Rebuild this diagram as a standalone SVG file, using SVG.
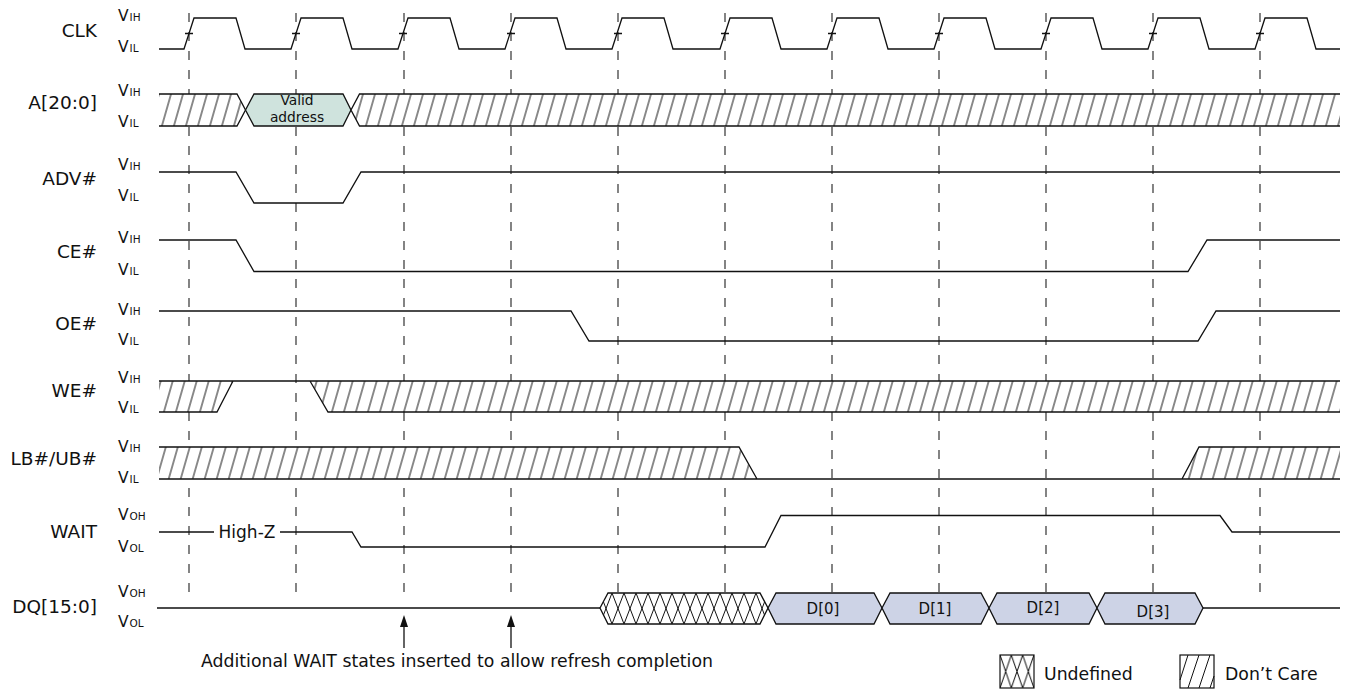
<svg xmlns="http://www.w3.org/2000/svg" width="1345" height="690" viewBox="0 0 1345 690">
<style>
text{font-family:"DejaVu Sans","Liberation Sans",sans-serif;fill:#111}
.lbl{font-size:18.5px;text-anchor:end}
.v{font-size:15.5px}
.s{font-size:10.5px}
.sig{fill:none;stroke:#111;stroke-width:1.3;stroke-linejoin:miter}
.dash{stroke:#333;stroke-width:1.2;stroke-dasharray:9 10}
.hf{fill:url(#hatch);stroke:none}
.d{fill:#cdd3e6;stroke:#111;stroke-width:1.3}
.dt{font-size:15px;text-anchor:middle}
.vt{font-size:13.8px;text-anchor:middle}
.note{font-size:17.3px}
</style>
<defs>
<pattern id="hatch" patternUnits="userSpaceOnUse" width="12" height="12" patternTransform="skewX(-16)">
<rect width="12" height="12" fill="#fff"/>
<line x1="6" y1="-1" x2="6" y2="13" stroke="#111" stroke-width="1"/>
</pattern>
<pattern id="xh" patternUnits="userSpaceOnUse" x="0" y="593" width="12" height="31">
<rect width="12" height="31" fill="#fff"/>
<path d="M0,0L12,31M12,0L0,31" stroke="#111" stroke-width="1"/>
</pattern>
<pattern id="xhl" patternUnits="userSpaceOnUse" x="1000" y="655" width="11.33" height="33">
<rect width="11.33" height="33" fill="#fff"/>
<path d="M0,0L11.33,33M11.33,0L0,33" stroke="#111" stroke-width="1"/>
</pattern>
</defs>

<g id="connectors">
<g id="ref-lines">
<line class="dash" x1="189" y1="13" x2="189" y2="602"/>
<line class="dash" x1="296" y1="13" x2="296" y2="602"/>
<line class="dash" x1="404" y1="13" x2="404" y2="602"/>
<line class="dash" x1="511" y1="13" x2="511" y2="602"/>
<line class="dash" x1="618" y1="13" x2="618" y2="602"/>
<line class="dash" x1="725" y1="13" x2="725" y2="602"/>
<line class="dash" x1="832" y1="13" x2="832" y2="602"/>
<line class="dash" x1="939" y1="13" x2="939" y2="602"/>
<line class="dash" x1="1046" y1="13" x2="1046" y2="602"/>
<line class="dash" x1="1153" y1="13" x2="1153" y2="602"/>
<line class="dash" x1="1260" y1="13" x2="1260" y2="602"/>
</g>
<g id="arrows">
<line x1="404" y1="626" x2="404" y2="648" stroke="#111" stroke-width="1.3"/>
<polygon points="404,615 400,627 408,627" fill="#111"/>
<line x1="511" y1="626" x2="511" y2="648" stroke="#111" stroke-width="1.3"/>
<polygon points="511,615 507,627 515,627" fill="#111"/>
</g>
</g>

<g id="clk">
<text class="lbl" x="97" y="37">CLK</text>
<text x="118" y="21"><tspan class="v">V</tspan><tspan class="s" dx="1">IH</tspan></text>
<text x="118" y="52"><tspan class="v">V</tspan><tspan class="s" dx="1">IL</tspan></text>
<path class="sig" d="M159,49 L184,49 L194,18 L236,18 L245,49 L291,49 L301,18 L343,18 L352,49 L398,49 L408,18 L450,18 L459,49 L505,49 L515,18 L557,18 L566,49 L612,49 L622,18 L664,18 L673,49 L720,49 L730,18 L772,18 L781,49 L827,49 L837,18 L879,18 L888,49 L934,49 L944,18 L986,18 L995,49 L1041,49 L1051,18 L1093,18 L1102,49 L1148,49 L1158,18 L1200,18 L1209,49 L1255,49 L1265,18 L1307,18 L1316,49 L1340,49"/>
<path class="sig" stroke-width="1.1" d="M185,33.5H193M292,33.5H300M399,33.5H407M507,33.5H515M614,33.5H622M721,33.5H729M828,33.5H836M935,33.5H943M1042,33.5H1050M1149,33.5H1157M1256,33.5H1264"/>
</g>

<g id="addr">
<text class="lbl" x="97" y="109">A[20:0]</text>
<text x="118" y="96"><tspan class="v">V</tspan><tspan class="s" dx="1">IH</tspan></text>
<text x="118" y="127"><tspan class="v">V</tspan><tspan class="s" dx="1">IL</tspan></text>
<polygon class="hf" points="159,94 237,94 245.5,110 237,126 159,126"/>
<path class="sig" d="M159,94H237L245.5,110L237,126H159"/>
<polygon points="245.5,110 254,94 343,94 351,110 343,126 254,126" fill="#cfe3dd" stroke="#111" stroke-width="1.3"/>
<text class="vt" x="297" y="105">Valid</text>
<text class="vt" x="297" y="121.5">address</text>
<polygon class="hf" points="351,110 359.5,94 1340,94 1340,126 359.5,126"/>
<path class="sig" d="M1340,94H359.5L351,110L359.5,126H1340"/>
</g>

<g id="adv">
<text class="lbl" x="97" y="185">ADV#</text>
<text x="118" y="170"><tspan class="v">V</tspan><tspan class="s" dx="1">IH</tspan></text>
<text x="118" y="201"><tspan class="v">V</tspan><tspan class="s" dx="1">IL</tspan></text>
<path class="sig" d="M159,172H236L254,203H343L361,172H1340"/>
</g>

<g id="ce">
<text class="lbl" x="97" y="258">CE#</text>
<text x="118" y="243"><tspan class="v">V</tspan><tspan class="s" dx="1">IH</tspan></text>
<text x="118" y="275"><tspan class="v">V</tspan><tspan class="s" dx="1">IL</tspan></text>
<path class="sig" d="M159,240H236L254,271.5H1188L1207,240H1340"/>
</g>

<g id="oe">
<text class="lbl" x="97" y="330">OE#</text>
<text x="118" y="315"><tspan class="v">V</tspan><tspan class="s" dx="1">IH</tspan></text>
<text x="118" y="345"><tspan class="v">V</tspan><tspan class="s" dx="1">IL</tspan></text>
<path class="sig" d="M159,311H571L589,341H1198L1216,311H1340"/>
</g>

<g id="we">
<text class="lbl" x="97" y="397">WE#</text>
<text x="118" y="383"><tspan class="v">V</tspan><tspan class="s" dx="1">IH</tspan></text>
<text x="118" y="413"><tspan class="v">V</tspan><tspan class="s" dx="1">IL</tspan></text>
<polygon class="hf" points="159,381 233,381 217,412 159,412"/>
<polygon class="hf" points="310,381 1340,381 1340,412 328,412"/>
<path class="sig" d="M159,381H1340M159,412H217L233,381M310,381L328,412H1340"/>
</g>

<g id="lbub">
<text class="lbl" x="97" y="465">LB#/UB#</text>
<text x="118" y="452"><tspan class="v">V</tspan><tspan class="s" dx="1">IH</tspan></text>
<text x="118" y="483"><tspan class="v">V</tspan><tspan class="s" dx="1">IL</tspan></text>
<polygon class="hf" points="159,447 739,447 757,479 159,479"/>
<polygon class="hf" points="1182,479 1199,447 1340,447 1340,479"/>
<path class="sig" d="M159,447H739L757,479M159,479H1340M1182,479L1199,447H1340"/>
</g>

<g id="wait">
<text class="lbl" x="97" y="538">WAIT</text>
<text x="118" y="520"><tspan class="v">V</tspan><tspan class="s" dx="1">OH</tspan></text>
<text x="118" y="552"><tspan class="v">V</tspan><tspan class="s" dx="1">OL</tspan></text>
<path class="sig" d="M159,532H214M280,532H352L361,547H765L781,515.5H1220L1232,532H1340"/>
<text x="247" y="538" style="font-size:17px;text-anchor:middle">High-Z</text>
</g>

<g id="dq">
<text class="lbl" x="97" y="613">DQ[15:0]</text>
<text x="118" y="597"><tspan class="v">V</tspan><tspan class="s" dx="1">OH</tspan></text>
<text x="118" y="627"><tspan class="v">V</tspan><tspan class="s" dx="1">OL</tspan></text>
<path class="sig" d="M157,608H600M1203,608H1340"/>
<polygon points="600,608 608,593 760,593 768,608 760,624 608,624" fill="url(#xh)" stroke="#111" stroke-width="1.3"/>
<polygon class="d" points="768,608 776,593 874,593 882,608 874,624 776,624"/>
<text class="dt" x="823" y="614">D[0]</text>
<polygon class="d" points="882,608 890,593 981,593 989,608 981,624 890,624"/>
<text class="dt" x="935" y="614">D[1]</text>
<polygon class="d" points="989,608 997,593 1089,593 1097,608 1089,624 997,624"/>
<text class="dt" x="1043" y="613">D[2]</text>
<polygon class="d" points="1097,608 1105,593 1195,593 1203,608 1195,624 1105,624"/>
<text class="dt" x="1153" y="617">D[3]</text>
</g>

<g id="note">
<text class="note" x="457" y="667" text-anchor="middle">Additional WAIT states inserted to allow refresh completion</text>
</g>

<g id="legend">
<rect x="1000" y="655" width="34" height="33" fill="url(#xhl)" stroke="#111" stroke-width="1.2"/>
<text class="note" x="1044" y="680">Undefined</text>
<rect x="1180" y="655" width="34" height="33" fill="#fff" stroke="#111" stroke-width="1.2"/>
<path d="M1180,680L1188,655M1188,688L1199,655M1199,688L1210,655M1210,688L1214,676" stroke="#111" stroke-width="1" fill="none"/>
<text class="note" x="1225" y="680">Don’t Care</text>
</g>
</svg>
